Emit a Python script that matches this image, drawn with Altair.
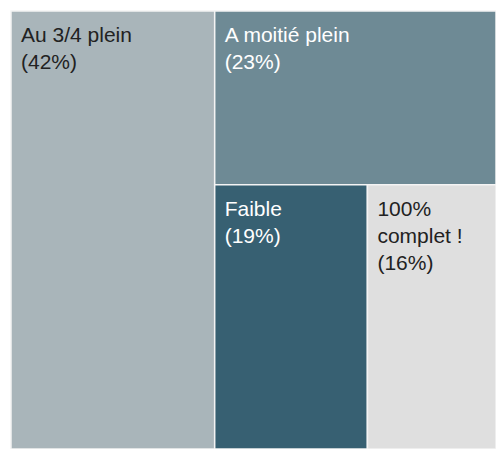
import altair as alt
import pandas as pd

# Data
categories = ["Au 3/4 plein", "A moitié plein", "Faible", "100% complet !"]
labels = ["Au 3/4 plein", "A moitié plein", "Faible", "100%\ncomplet !"]
values = [42, 23, 19, 16]
colors = ["#A9B5BA", "#6E8A95", "#376072", "#DFDFDF"]

W, H = 485, 438


def binary_treemap(vals, x0, y0, x1, y1, out, idx):
    if len(vals) == 1:
        out[idx[0]] = (x0, y0, x1, y1)
        return
    total = sum(vals)
    half = total / 2
    k = 1
    best = None
    for i in range(1, len(vals)):
        cum = sum(vals[:i])
        d = abs(cum - half)
        if best is None or d < best:
            best = d
            k = i
    left, right = vals[:k], vals[k:]
    frac = sum(left) / total
    if (x1 - x0) > (y1 - y0):
        xm = x0 + (x1 - x0) * frac
        binary_treemap(left, x0, y0, xm, y1, out, idx[:k])
        binary_treemap(right, xm, y0, x1, y1, out, idx[k:])
    else:
        ym = y0 + (y1 - y0) * frac
        binary_treemap(left, x0, y0, x1, ym, out, idx[:k])
        binary_treemap(right, x0, ym, x1, y1, out, idx[k:])


rects = {}
binary_treemap(values, 0, 0, W, H, rects, list(range(len(values))))


def text_color(hexc):
    r, g, b = int(hexc[1:3], 16), int(hexc[3:5], 16), int(hexc[5:7], 16)
    lum = 0.299 * r + 0.587 * g + 0.114 * b
    return "#222222" if lum > 150 else "#ffffff"


rows = []
for i, c in enumerate(categories):
    x0, y0, x1, y1 = rects[i]
    rows.append({
        "cat": c,
        "label": f"{labels[i]}\n({values[i]}%)",
        "x0": x0, "x1": x1, "y0": y0, "y1": y1,
        "fill": colors[i],
        "tcol": text_color(colors[i]),
    })
df = pd.DataFrame(rows)

xs = alt.Scale(domain=[0, W], nice=False, zero=False)
ys = alt.Scale(domain=[0, H], nice=False, zero=False, reverse=True)

base = alt.Chart(df)

rect = base.mark_rect(stroke="#f4f4f4", strokeWidth=1.5).encode(
    x=alt.X("x0:Q", scale=xs, axis=None),
    x2="x1:Q",
    y=alt.Y("y0:Q", scale=ys, axis=None),
    y2="y1:Q",
    color=alt.Color("fill:N", scale=None),
)

text = base.mark_text(
    align="left", baseline="top", dx=10, dy=14, fontSize=21,
    font="Liberation Sans", lineBreak="\n", lineHeight=27,
).encode(
    x=alt.X("x0:Q", scale=xs, axis=None),
    y=alt.Y("y0:Q", scale=ys, axis=None),
    text="label:N",
    color=alt.Color("tcol:N", scale=None),
)

chart = (rect + text).properties(
    width=W, height=H,
    autosize=alt.AutoSizeParams(type="none"),
    padding={"left": 11, "top": 11, "right": 0, "bottom": 0},
).configure_view(stroke=None)

chart.save("out.html", embed_options={"renderer": "svg", "actions": False})
